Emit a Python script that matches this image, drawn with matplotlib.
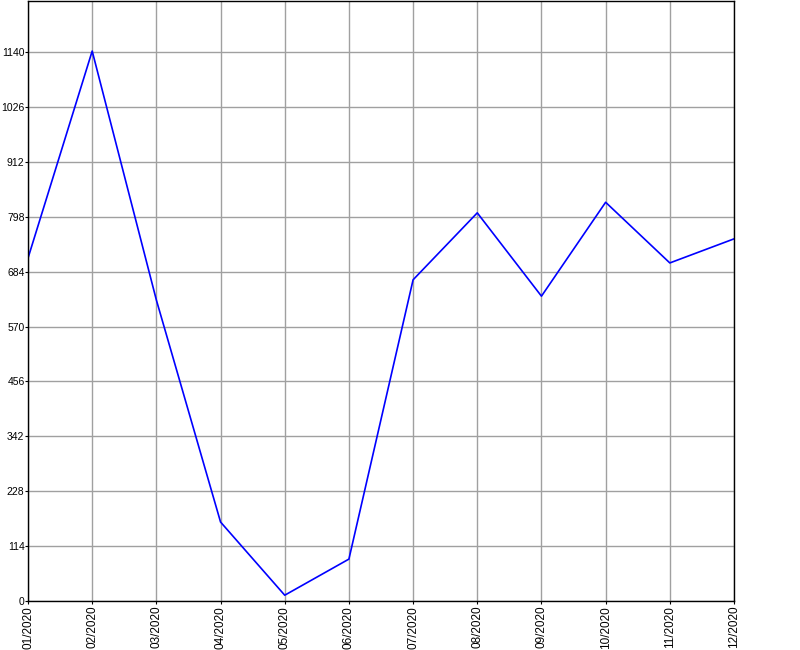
import matplotlib
matplotlib.use('Agg')
import matplotlib.pyplot as plt

months = ['01/2020', '02/2020', '03/2020', '04/2020', '05/2020', '06/2020',
          '07/2020', '08/2020', '09/2020', '10/2020', '11/2020', '12/2020']
values = [712, 1142, 625, 164, 12, 87, 667, 806, 633, 828, 702, 752]
y_ticks = [0, 114, 228, 342, 456, 570, 684, 798, 912, 1026, 1140]

plt.rcParams['font.family'] = ['Liberation Sans', 'DejaVu Sans']

fig = plt.figure(figsize=(8, 6.5), dpi=100)
ax = fig.add_axes([0.035, 0.0754, 0.8825, 0.9231])

x = list(range(len(months)))
ax.plot(x, values, color='#0000ff', linewidth=1.2)

ax.set_xlim(0, len(months) - 1)
ax.set_ylim(0, 1246)
ax.set_xticks(x)
ax.set_xticklabels(months, rotation=90, fontsize=8.5)
ax.set_yticks(y_ticks)
ax.set_yticklabels([str(v) for v in y_ticks], fontsize=7.5)
ax.tick_params(axis='x', length=2.5, width=0.8, pad=1)
ax.tick_params(axis='y', length=2, width=0.8, pad=0.5)
ax.grid(True, color='#a0a0a0', linewidth=1)
ax.set_axisbelow(True)
for s in ax.spines.values():
    s.set_linewidth(1)
    s.set_color('black')

fig.savefig('out.png', dpi=100)
